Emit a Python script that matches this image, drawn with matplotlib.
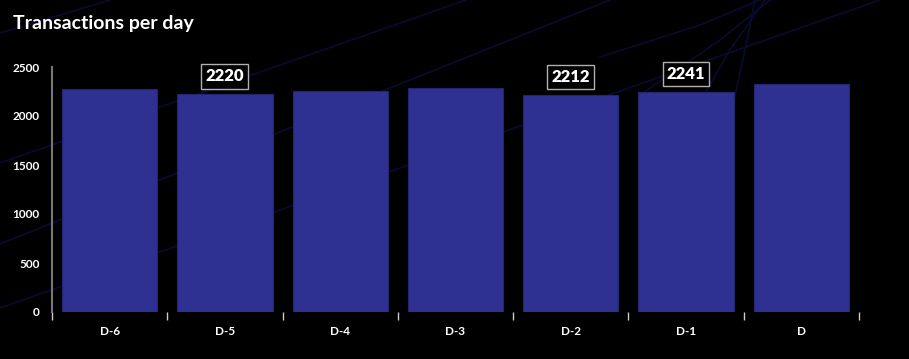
import matplotlib
matplotlib.use('Agg')
import matplotlib.pyplot as plt
from matplotlib.lines import Line2D

plt.rcParams['font.family'] = ['Lato', 'DejaVu Sans']

# data
days = ['D-6', 'D-5', 'D-4', 'D-3', 'D-2', 'D-1', 'D']
transactions = [2276, 2220, 2255, 2283, 2212, 2241, 2330]
labelled = ['D-5', 'D-2', 'D-1']
y_ticks = [0, 500, 1000, 1500, 2000, 2500]

W, H = 909, 359
fig = plt.figure(figsize=(W / 100, H / 100), dpi=100, facecolor='black')

# faint decorative lines in the background (pixel coords)
deco = [
    [(0, 163), (466, 0)],
    [(0, 244), (460, 60), (610, 0)],
    [(0, 308), (880, 0)],
    [(0, 33), (110, 0)],
    [(600, 57), (700, 25), (760, 0)],
    [(690, 120), (730, 50), (765, 0)],
    [(730, 120), (745, 50), (755, 0)],
    [(640, 95), (720, 40), (770, 0)],
]
for pts in deco:
    xs = [p[0] / W for p in pts]
    ys = [1 - p[1] / H for p in pts]
    fig.add_artist(Line2D(xs, ys, color='#080b2c', lw=1.3, zorder=0))

ax = fig.add_axes([52 / W, (H - 312) / H, (859 - 52) / W, (312 - 67) / H])
ax.set_facecolor('none')
ax.patch.set_alpha(0)

x = range(len(days))
ax.bar(x, transactions, width=0.826, color='#2e3192', edgecolor='#23266f', linewidth=0.8, zorder=2)

for i, (d, v) in enumerate(zip(days, transactions)):
    if d in labelled:
        ax.annotate(str(v), (i, v), xytext=(0, 13), textcoords='offset points',
                    ha='center', va='center', color='white', fontsize=12, fontweight='heavy',
                    bbox=dict(boxstyle='square,pad=0.25', fc='black', ec='#b0b0b0', lw=1))

ax.set_xlim(-0.5, len(days) - 0.5)
ax.set_ylim(0, 2500)

# ticks on category edges, labels centred
ax.set_xticks([i - 0.5 for i in range(len(days) + 1)])
ax.set_xticklabels([])
ax.set_xticks(list(x), minor=True)
ax.set_xticklabels(days, minor=True)
ax.tick_params(axis='x', which='major', length=6, color='#cccccc', width=1)
ax.tick_params(axis='x', which='minor', length=0, pad=10, labelcolor='white', labelsize=8.5)
for lab in ax.get_xticklabels(minor=True):
    lab.set_fontweight('bold')

ax.set_yticks(y_ticks)
ax.tick_params(axis='y', length=0, pad=9, labelcolor='white', labelsize=8.5)
for lab in ax.get_yticklabels():
    lab.set_fontweight('bold')

for s in ['top', 'right', 'bottom']:
    ax.spines[s].set_visible(False)
ax.spines['left'].set_color('#777777')
ax.spines['left'].set_linewidth(1.5)

fig.text(13 / W, 1 - 23 / H, 'Transactions per day', color='white', fontsize=14,
         fontweight='bold', va='center', ha='left')

fig.savefig('out.png', dpi=100, facecolor='black')
